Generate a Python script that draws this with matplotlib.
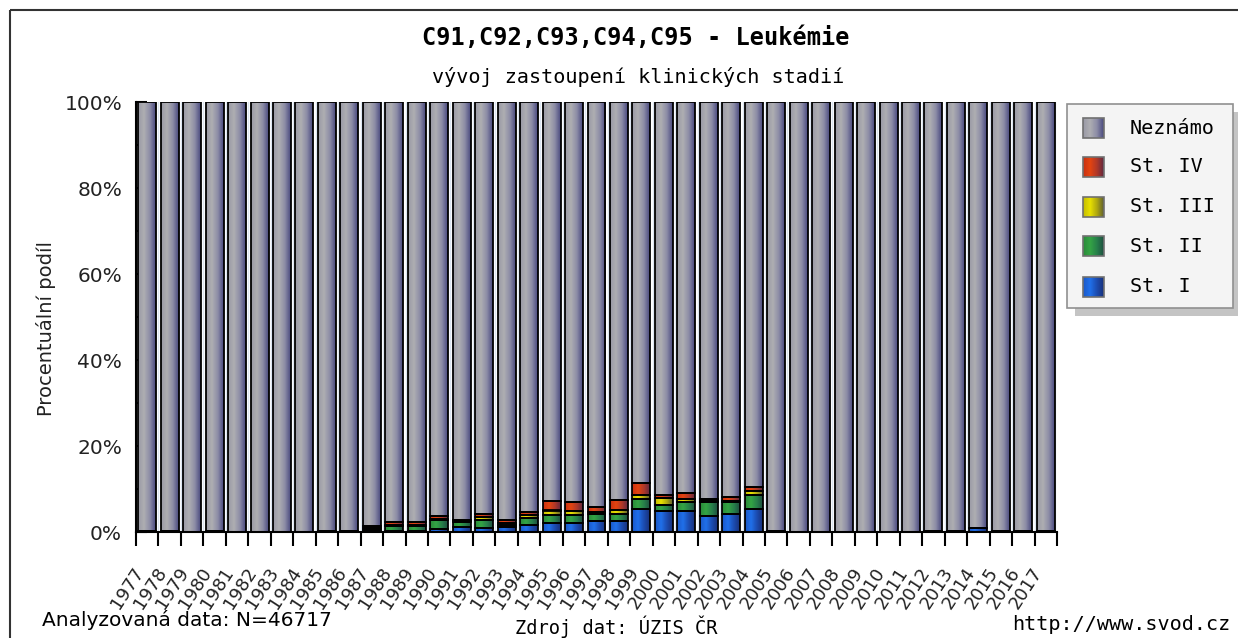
import numpy as np
import matplotlib
matplotlib.use("Agg")
import matplotlib.pyplot as plt
from matplotlib.colors import LinearSegmentedColormap
from matplotlib.patches import Rectangle
import matplotlib.transforms as mtransforms

years = list(range(1977, 2018))

# percentages per stage, 1977..2017
st1 = [0.3, 0.3, 0, 0.3, 0, 0, 0, 0, 0.2, 0.3,
       0.4, 0.3, 0.3, 0.8, 1.1, 0.9, 1.1, 1.7, 2.1, 2.1,
       2.5, 2.5, 5.4, 5.0, 5.0, 3.7, 4.1, 5.4, 0.3, 0,
       0, 0, 0, 0, 0, 0.2, 0.3, 1.0, 0.2, 0.3, 0.3]
st2 = [0, 0, 0, 0, 0, 0, 0, 0, 0, 0,
       0.6, 1.0, 1.0, 2.0, 1.3, 2.0, 0.6, 1.5, 1.9, 1.8,
       1.7, 1.8, 2.3, 1.3, 1.9, 3.3, 2.8, 3.2, 0, 0,
       0, 0, 0, 0, 0, 0, 0, 0, 0, 0, 0]
st3 = [0, 0, 0, 0, 0, 0, 0, 0, 0, 0,
       0, 0.3, 0.3, 0.3, 0.1, 0.5, 0.5, 0.7, 1.0, 1.0,
       0.5, 0.9, 1.0, 1.5, 0.7, 0.3, 0.4, 0.9, 0, 0,
       0, 0, 0, 0, 0, 0, 0, 0, 0, 0, 0]
st4 = [0, 0, 0, 0, 0, 0, 0, 0, 0, 0,
       0.4, 0.8, 0.8, 0.7, 0.2, 0.9, 0.6, 0.8, 2.1, 2.1,
       1.0, 2.2, 2.8, 0.8, 1.5, 0.3, 0.9, 1.0, 0, 0,
       0, 0, 0, 0, 0, 0, 0, 0, 0, 0, 0]
unknown = [100 - a - b - c - d for a, b, c, d in zip(st1, st2, st3, st4)]

names = ['St. I', 'St. II', 'St. III', 'St. IV', 'Neznámo']
series = [st1, st2, st3, st4, unknown]
grads = [
    ['#1a58c8', '#2070ea', '#1c4cb0', '#18307a'],
    ['#2a8a3a', '#34a444', '#27804a', '#1e4e40'],
    ['#c4bc00', '#e8e000', '#b0a810', '#606030'],
    ['#c83010', '#e44410', '#b03828', '#602840'],
    ['#9a9aa6', '#aeaeb2', '#8c8ca6', '#48487e'],
]
cmaps = [LinearSegmentedColormap.from_list('g%d' % i, g) for i, g in enumerate(grads)]
gradient = np.linspace(0, 1, 64).reshape(1, -1)

W, H = 1238, 638
fig = plt.figure(figsize=(W / 100, H / 100), dpi=100)
fig.patch.set_facecolor('white')
ax = fig.add_axes([136 / W, 1 - 532 / H, (1057 - 136) / W, 430 / H])

x = np.arange(len(years))
bottom = np.zeros(len(years))
for vals, cm in zip(series, cmaps):
    vals = np.array(vals, dtype=float)
    bars = ax.bar(x, vals, 0.8, bottom=bottom, facecolor='none',
                  edgecolor='black', linewidth=1.3, zorder=3)
    for p in bars:
        if p.get_height() <= 0:
            continue
        x0, y0 = p.get_x(), p.get_y()
        ax.imshow(gradient, cmap=cm, aspect='auto', interpolation='bilinear',
                  extent=(x0, x0 + p.get_width(), y0, y0 + p.get_height()), zorder=2)
    bottom += vals

ax.set_xlim(-0.5, len(years) - 0.5)
ax.set_ylim(0, 100)
ax.spines['top'].set_visible(False)
ax.spines['right'].set_visible(False)
for s in ['left', 'bottom']:
    ax.spines[s].set_linewidth(1.5)
    ax.spines[s].set_zorder(4)

ax.set_xticks(np.arange(-0.5, len(years), 1.0))
ax.set_xticklabels([])
ax.tick_params(axis='x', direction='out', length=10, width=1.5)
ax.grid(axis='x', color='#dce6f2', linewidth=1, zorder=0)
ax.set_yticks(range(0, 101, 20))
ax.set_yticklabels(['%d%%' % v for v in range(0, 101, 20)], fontsize=14.5, color='#222222')
ax.set_yticks(range(10, 100, 20), minor=True)
ax.tick_params(axis='y', which='both', direction='in', length=8, width=1.5, pad=10)

trans = mtransforms.blended_transform_factory(ax.transData, ax.transAxes)
for i, y in enumerate(years):
    ax.text(i - 0.65, -0.075, str(y), transform=trans, rotation=57,
            ha='right', va='top', rotation_mode='anchor', fontsize=13, color='#222222')

# overlay in pixel coordinates for frame, titles, legend, footer
ov = fig.add_axes([0, 0, 1, 1], zorder=5)
ov.set_axis_off()
ov.add_patch(Rectangle((10, 10), 1400, 800, fill=False, edgecolor='#333333', linewidth=1.5))

ov.text(636, 38, 'C91,C92,C93,C94,C95 - Leukémie', family='DejaVu Sans Mono',
        fontweight='bold', fontsize=17, ha='center', va='center')
ov.text(638, 77, 'vývoj zastoupení klinických stadií', family='DejaVu Sans Mono',
        fontsize=14.5, ha='center', va='center')
fig.text(46 / W, 1 - 328 / H, 'Procentuální podíl', rotation=90, ha='center',
         va='center', fontsize=14, color='#222222')

# legend
ov.add_patch(Rectangle((1075, 112), 166, 204, facecolor='#c4c4c4', edgecolor='none'))
ov.add_patch(Rectangle((1067, 104), 166, 204, facecolor='#f4f4f4', edgecolor='#909090', linewidth=1.2))
leg_y = [128, 167, 207, 246, 287]
for k, idx in enumerate([4, 3, 2, 1, 0]):
    yc = leg_y[k]
    ov.imshow(gradient, cmap=cmaps[idx], aspect='auto', interpolation='bilinear',
              extent=(1083, 1104, yc + 10, yc - 10), zorder=6)
    ov.add_patch(Rectangle((1083, yc - 10), 21, 20, fill=False, edgecolor='#707070',
                           linewidth=1.2, zorder=7))
    ov.text(1130, yc, names[idx], family='DejaVu Sans Mono', fontsize=14.5,
            ha='left', va='center', zorder=7)

ov.text(42, 620, 'Analyzovaná data: N=46717', fontsize=14.5, ha='left', va='center')
ov.text(515, 627, 'Zdroj dat: ÚZIS ČR', family='DejaVu Sans Mono', fontsize=13.5,
        ha='left', va='center')
ov.text(1230, 625, 'http://www.svod.cz', family='DejaVu Sans Mono', fontsize=14.5,
        ha='right', va='center')

ov.set_xlim(0, W)
ov.set_ylim(H, 0)

fig.savefig('out.png', dpi=100)
